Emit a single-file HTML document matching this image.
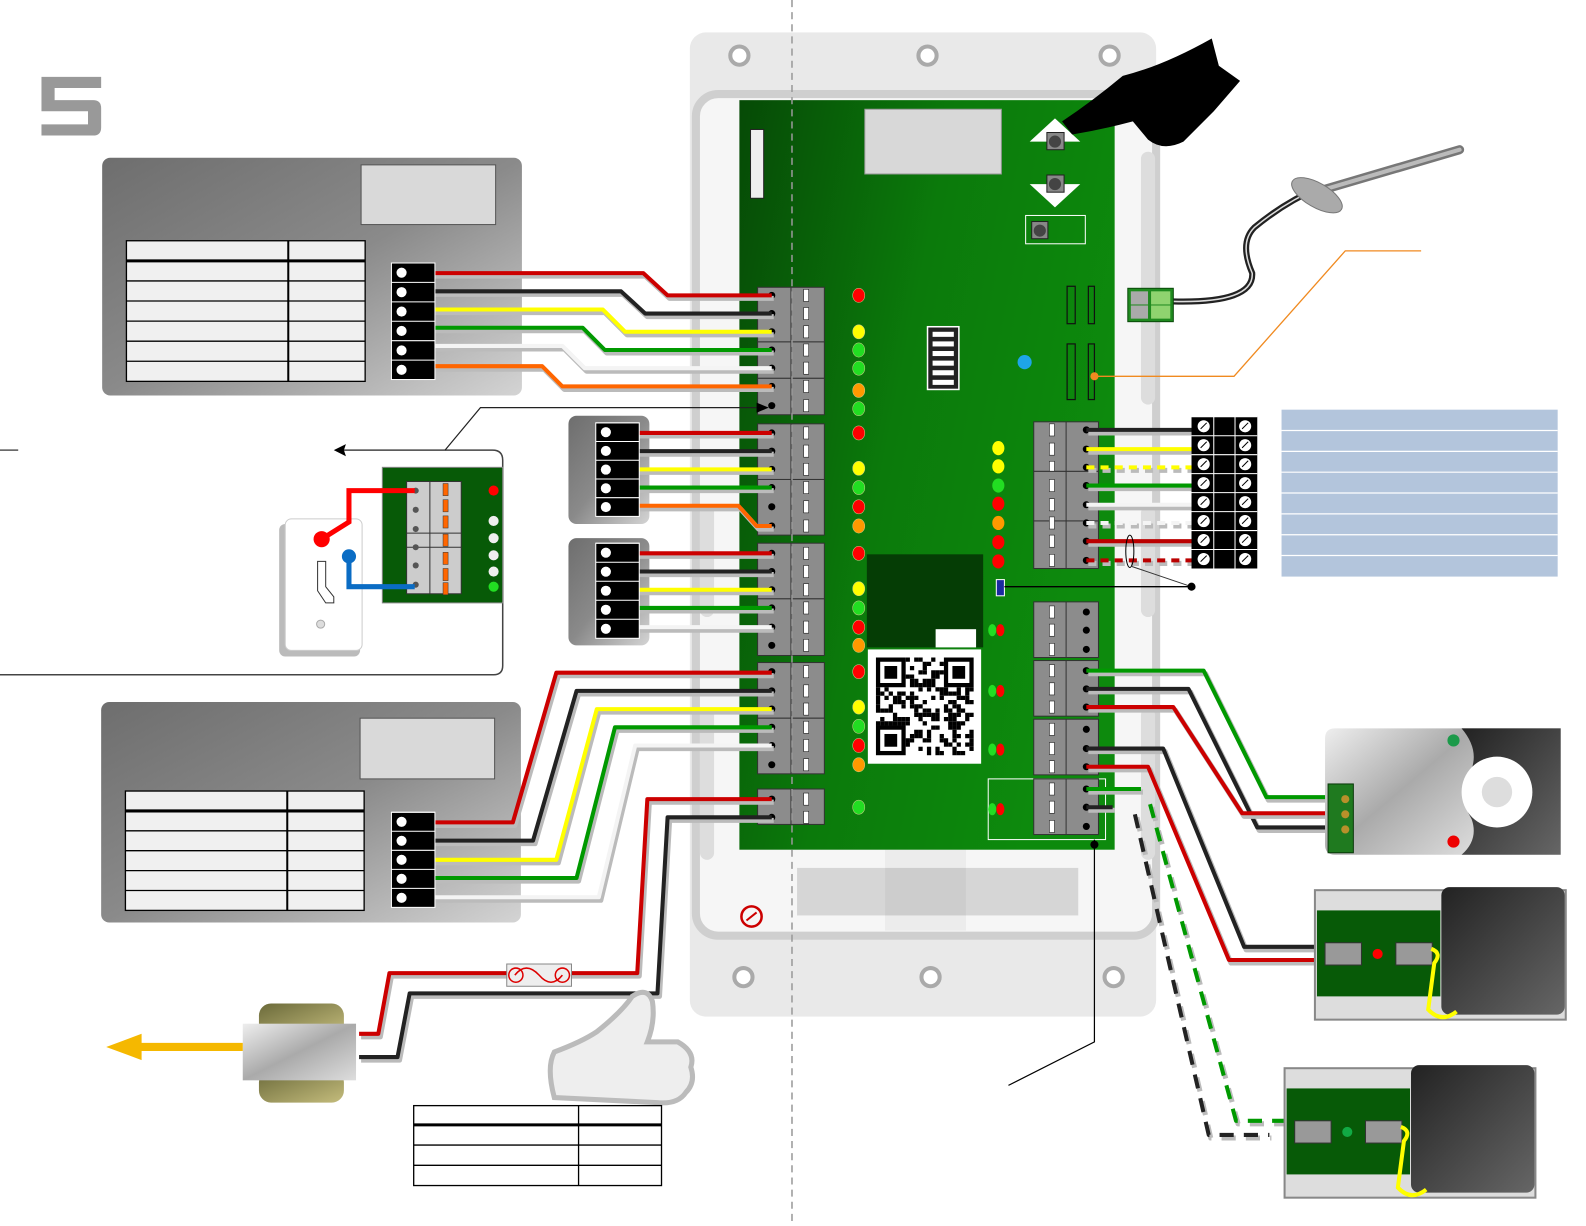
<!DOCTYPE html>
<html><head><meta charset="utf-8"><style>html,body{margin:0;padding:0;background:#fff}svg{display:block}</style></head>
<body>
<svg id="s" xmlns="http://www.w3.org/2000/svg" width="1586" height="1226" viewBox="0 0 1568 1212" preserveAspectRatio="none">
<defs>
<linearGradient id="pg" x1="0" y1="0" x2="1" y2="1"><stop offset="0" stop-color="#6e6e6e"/><stop offset="0.5" stop-color="#8a8a8a"/><stop offset="1" stop-color="#d4d4d4"/></linearGradient>
<linearGradient id="gb" x1="0" y1="0" x2="1" y2="0.4"><stop offset="0" stop-color="#064a06"/><stop offset="0.5" stop-color="#0b7a0b"/><stop offset="1" stop-color="#0d8a0d"/></linearGradient>
<linearGradient id="mg" x1="0" y1="0" x2="1" y2="1"><stop offset="0" stop-color="#eee"/><stop offset="0.5" stop-color="#aaa"/><stop offset="1" stop-color="#ddd"/></linearGradient>
<linearGradient id="dk" x1="0" y1="0" x2="1" y2="1"><stop offset="0" stop-color="#222"/><stop offset="1" stop-color="#666"/></linearGradient>
<linearGradient id="ol" x1="0" y1="0" x2="1" y2="1"><stop offset="0" stop-color="#6b6a3a"/><stop offset="1" stop-color="#c4bc7c"/></linearGradient>
</defs>
<!-- big 5 -->
<path d="M41 76 H100 V87 H54 V99 H92 Q100 99 100 107 V126 Q100 134 92 134 H41 V123 H87 V110 H41 Z" fill="#999"/>
<!-- enclosure -->
<rect x="682" y="32" width="461" height="973" rx="16" fill="#e9e9e9"/>
<rect x="688" y="93" width="455" height="832" rx="22" fill="#f6f6f6" stroke="#cfcfcf" stroke-width="8"/>
<rect x="1128" y="150" width="14" height="250" rx="7" fill="#ddd"/>
<rect x="1128" y="500" width="14" height="110" rx="7" fill="#ddd"/>
<rect x="1128" y="700" width="14" height="150" rx="7" fill="#ddd"/>
<rect x="692" y="500" width="14" height="110" rx="7" fill="#ddd"/>
<rect x="692" y="700" width="14" height="150" rx="7" fill="#ddd"/>
<g fill="#fff" stroke="#aaa" stroke-width="4"><circle cx="731" cy="55" r="9"/><circle cx="917" cy="55" r="9"/><circle cx="1097" cy="55" r="9"/><circle cx="735" cy="966" r="9"/><circle cx="920" cy="966" r="9"/><circle cx="1101" cy="966" r="9"/></g>
<rect x="788" y="858" width="278" height="47" fill="#d6d6d6"/><rect x="875" y="840" width="80" height="80" fill="#000" opacity="0.04"/>
<circle cx="743" cy="906" r="10" fill="none" stroke="#c00" stroke-width="2.5"/><path d="M738 910 L748 902" stroke="#c00" stroke-width="2"/>
<!-- PCB -->
<rect x="731" y="99" width="371" height="741" fill="url(#gb)"/>
<rect x="742" y="128" width="13" height="68" fill="#eee" stroke="#222" stroke-width="1"/>
<rect x="855" y="108" width="135" height="64" fill="#d8d8d8" stroke="#999"/>
<path d="M1018 140 L1043 117 L1068 140 Z" fill="#fff"/><rect x="1035" y="131" width="17" height="17" fill="#888" stroke="#222"/><circle cx="1043" cy="140" r="6" fill="#444"/>
<path d="M1018 182 L1043 205 L1068 182 Z" fill="#fff"/><rect x="1035" y="173" width="17" height="17" fill="#888" stroke="#222"/><circle cx="1043" cy="182" r="6" fill="#444"/>
<rect x="1014" y="213" width="59" height="28" fill="none" stroke="#fff"/><rect x="1020" y="219" width="16" height="17" fill="#888" stroke="#222"/><circle cx="1028" cy="228" r="6" fill="#444"/>
<g fill="none" stroke="#111" stroke-width="1.2"><rect x="1055" y="283" width="8" height="37"/><rect x="1076" y="283" width="6" height="37"/><rect x="1055" y="340" width="8" height="55"/><rect x="1076" y="340" width="6" height="55"/></g>
<rect x="917" y="323" width="31" height="62" fill="#222" stroke="#fff" stroke-width="1.5"/>
<g id="dip"></g>
<circle cx="1013" cy="358" r="7" fill="#1ea5e8"/>
<rect x="857" y="548" width="115" height="92" fill="#053d05"/><rect x="925" y="622" width="40" height="18" fill="#fff"/>
<rect x="858" y="642" width="112" height="113" fill="#fff"/><g id="qr"></g>
<rect x="977" y="770" width="116" height="60" fill="none" stroke="#fff" stroke-width="1"/>
<rect x="985" y="573" width="8" height="16" fill="#1a2aa0" stroke="#fff"/>
<g id="bt"></g><g id="leds"></g>
<!-- dashed center line -->
<line x1="783" y1="0" x2="783" y2="1212" stroke="#999" stroke-width="1.5" stroke-dasharray="7 5"/>
<!-- panels -->
<rect x="101" y="156" width="415" height="235" rx="8" fill="url(#pg)"/>
<rect x="357" y="163" width="133" height="59" fill="#d9d9d9" stroke="#555" stroke-width="1"/>
<g id="t1"></g>
<rect x="100" y="694" width="415" height="218" rx="8" fill="url(#pg)"/>
<rect x="356" y="710" width="133" height="60" fill="#d9d9d9" stroke="#555" stroke-width="1"/>
<g id="t2"></g>
<rect x="562" y="411" width="80" height="107" rx="8" fill="url(#pg)"/>
<rect x="562" y="532" width="80" height="106" rx="8" fill="url(#pg)"/>
<g id="wires"></g>
<g id="terms"></g>
<!-- switch area -->
<line x1="0" y1="445" x2="18" y2="445" stroke="#555" stroke-width="1.5"/>
<path d="M0 667 H488 Q497 667 497 658 V455 Q497 445 487 445 H340" fill="none" stroke="#444" stroke-width="1.5"/>
<path d="M330 445 L342 439 L340 445 L342 451 Z" fill="#000"/>
<path d="M440 445 L475 403 H755" fill="none" stroke="#222" stroke-width="1.2"/><path d="M760 403 L748 398 L748 408 Z" fill="#000"/>
<rect x="276" y="518" width="80" height="131" rx="6" fill="#bbb"/>
<rect x="282" y="513" width="76" height="130" rx="6" fill="#fff" stroke="#ccc"/>
<path d="M314 555 h8 v25 l8 10 v6 h-8 l-8 -12 Z" fill="#fff" stroke="#333"/>
<circle cx="317" cy="617" r="4" fill="#ddd" stroke="#aaa"/>
<rect x="378" y="462" width="119" height="134" fill="#075a07" stroke="#888"/>
<rect x="402" y="476" width="54" height="111" fill="#ccc" stroke="#333"/><line x1="425" y1="476" x2="425" y2="587" stroke="#333"/><line x1="402" y1="527" x2="456" y2="527" stroke="#333"/><line x1="402" y1="541" x2="456" y2="541" stroke="#333"/>
<g id="sw"></g>
<path d="M318 533 L345 516 V485 H410" fill="none" stroke="#f00" stroke-width="5"/><circle cx="318" cy="533" r="8" fill="#f00"/>
<path d="M345 550 V580 H410" fill="none" stroke="#0a6cc4" stroke-width="5"/><circle cx="345" cy="550" r="7" fill="#0a6cc4"/>
<!-- power -->
<rect x="256" y="992" width="84" height="32" rx="12" fill="url(#ol)"/><rect x="256" y="1058" width="84" height="32" rx="12" fill="url(#ol)"/>
<rect x="240" y="1012" width="112" height="56" fill="url(#mg)"/>
<path d="M240 1035 H130" stroke="#f5b800" stroke-width="8"/><path d="M105 1035 L140 1022 L140 1048 Z" fill="#f5b800"/>
<rect x="501" y="953" width="64" height="22" fill="#eee" stroke="#888"/>
<path d="M509 964 Q520 950 533 964 Q545 978 556 964" fill="none" stroke="#d00" stroke-width="1.5"/><circle cx="510" cy="964" r="7" fill="none" stroke="#d00" stroke-width="1.5"/><circle cx="556" cy="964" r="7" fill="none" stroke="#d00" stroke-width="1.5"/>
<path d="M548 1085 Q540 1055 548 1040 Q575 1030 590 1020 Q615 1000 625 985 Q640 975 645 990 Q648 1010 640 1030 L670 1030 Q688 1040 683 1055 Q688 1070 678 1080 Q670 1092 650 1090 Z" fill="#eee" stroke="#bbb" stroke-width="5"/>
<g fill="none" stroke="#000" stroke-width="1.3"><rect x="409" y="1093" width="245" height="79"/><line x1="572" y1="1093" x2="572" y2="1172"/><line x1="409" y1="1132" x2="654" y2="1132"/><line x1="409" y1="1152" x2="654" y2="1152"/></g><line x1="409" y1="1112" x2="654" y2="1112" stroke="#000" stroke-width="3"/>
<!-- right side -->
<path d="M1050 120 Q1080 100 1110 75 Q1150 65 1198 38 L1205 65 L1226 80 L1200 110 L1170 140 Q1150 150 1135 138 L1120 120 Q1090 128 1060 133 Z" fill="#000"/>
<path d="M1160 298 Q1240 300 1238 270 Q1225 240 1240 225 Q1270 200 1305 185" fill="none" stroke="#222" stroke-width="6"/><path d="M1160 298 Q1240 300 1238 270 Q1225 240 1240 225 Q1270 200 1305 185" fill="none" stroke="#ddd" stroke-width="1.5"/>
<path d="M1300 190 L1443 148" stroke="#777" stroke-width="9" stroke-linecap="round"/><path d="M1300 190 L1443 148" stroke="#bbb" stroke-width="4" stroke-linecap="round"/>
<ellipse cx="1302" cy="193" rx="28" ry="12" transform="rotate(30 1302 193)" fill="#aaa" stroke="#777"/>
<rect x="1115" y="285" width="45" height="33" fill="#1f8a1f" stroke="#0a4a0a"/><rect x="1138" y="288" width="19" height="13" fill="#8fd36f"/><rect x="1138" y="302" width="19" height="13" fill="#8fd36f"/><rect x="1118" y="288" width="17" height="13" fill="#aaa"/><rect x="1118" y="302" width="17" height="13" fill="#aaa"/>
<path d="M1082 372 H1220 L1330 248 H1405" fill="none" stroke="#f08a20" stroke-width="1.3"/><circle cx="1082" cy="372" r="4" fill="#f08a20"/>
<rect x="1267" y="405" width="273" height="165" fill="#b3c5dc"/><g id="bl"></g>
<rect x="1178" y="412" width="65" height="150" fill="#000"/><g id="strip"></g>
<ellipse cx="1117" cy="545" rx="4" ry="16" fill="none" stroke="#000"/><path d="M1119 560 L1178 580" stroke="#333"/>
<line x1="993" y1="580" x2="1178" y2="580" stroke="#000" stroke-width="1.3"/><circle cx="1178" cy="580" r="4" fill="#000"/>
<path d="M1082 830 V1030 L997 1073" fill="none" stroke="#000" stroke-width="1.2"/><circle cx="1082" cy="835" r="4" fill="#000"/>
<!-- actuator -->
<rect x="1445" y="720" width="98" height="125" fill="url(#dk)"/>
<path d="M1320 720 H1445 Q1462 740 1455 760 Q1440 785 1455 810 Q1462 830 1445 845 H1320 Q1310 845 1310 835 V730 Q1310 720 1320 720Z" fill="url(#mg)"/>
<circle cx="1480" cy="783" r="35" fill="#fff"/><circle cx="1480" cy="783" r="15" fill="#ddd"/>
<circle cx="1437" cy="732" r="6" fill="#1c9a4a"/><circle cx="1437" cy="832" r="6" fill="#e00"/>
<rect x="1313" y="775" width="25" height="68" fill="#1f7a1f" stroke="#0a3a0a"/>
<g fill="#b8902a"><circle cx="1330" cy="790" r="4"/><circle cx="1330" cy="805" r="4"/><circle cx="1330" cy="820" r="4"/></g>
<!-- boxes -->
<g id="bx"></g>
</svg>
<script>
const S='http://www.w3.org/2000/svg';
function el(p,t,a){const e=document.createElementNS(S,t);for(const k in a)e.setAttribute(k,a[k]);document.getElementById(p).appendChild(e);return e;}
// DIP
for(let i=0;i<6;i++)el('dip','rect',{x:922,y:328+i*9.5,width:21,height:5,fill:'#fff'});
// QR
let seed=7;function rnd(){seed=(seed*16807)%2147483647;return seed/2147483647;}
const qx=866,qy=650,c=4.2;
for(let r=0;r<23;r++)for(let k=0;k<23;k++){if((r<7&&k<7)||(r<7&&k>15)||(r>15&&k<7))continue;if(rnd()<0.5)el('qr','rect',{x:qx+k*c,y:qy+r*c,width:c,height:c,fill:'#000'});}
[[0,0],[16,0],[0,16]].forEach(([a,b])=>{el('qr','rect',{x:qx+a*c+c/2,y:qy+b*c+c/2,width:6*c,height:6*c,fill:'none',stroke:'#000','stroke-width':c});el('qr','rect',{x:qx+a*c+2*c,y:qy+b*c+2*c,width:3*c,height:3*c,fill:'#000'});});
// board terminal blocks left
function blk(x,y,w,h,pins,pinx,slotx){el('bt','rect',{x:x,y:y,width:w,height:h,fill:'#8c8c8c',stroke:'#333'});el('bt','line',{x1:x+w/2,y1:y,x2:x+w/2,y2:y+h,stroke:'#333'});pins.forEach(py=>{el('bt','circle',{cx:pinx,cy:py,r:3.5,fill:'#000'});el('bt','rect',{x:slotx-2.5,y:py-6,width:5,height:12,fill:'#fff',stroke:'#222','stroke-width':0.6});});}
const L=[[284,338,[292,310,328]],[338,374,[346,364]],[374,410,[382,401]],[419,474,[428,446,464]],[474,529,[482,501,520]],[537,592,[547,565,583]],[592,648,[601,620,638]],[655,710,[664,683,701]],[710,765,[719,737,756]],[780,815,[790,808]]];
L.forEach(([a,b,p])=>blk(749,a,66,b-a,p,763,797));
const R=[[417,466,[425,444,462]],[466,515,[480,499]],[515,562,[517,535,554]],[595,650,[605,623,642]],[653,708,[663,681,699]],[711,766,[721,740,758]],[770,825,[780,798,817]]];
R.forEach(([a,b,p])=>blk(1022,a,64,b-a,p,1074,1040));
// LEDs
const col={r:'#f00',y:'#ff0',g:'#2d2',o:'#f90',w:'#eee'};
[[292,'r'],[328,'y'],[346,'g'],[364,'g'],[386,'o'],[404,'g'],[428,'r'],[463,'y'],[482,'g'],[501,'r'],[520,'o'],[547,'r'],[582,'y'],[601,'g'],[620,'r'],[638,'o'],[664,'r'],[699,'y'],[718,'g'],[737,'r'],[756,'o'],[798,'g']].forEach(([y,k])=>el('leds','ellipse',{cx:849,cy:y,rx:6,ry:7,fill:col[k],stroke:'#cc8','stroke-width':0.5}));
[[443,'y'],[461,'y'],[480,'g'],[498,'r'],[517,'o'],[536,'r'],[555,'r']].forEach(([y,k])=>el('leds','ellipse',{cx:987,cy:y,rx:6,ry:7,fill:col[k]}));
[623,683,741,800].forEach(y=>{el('leds','ellipse',{cx:981,cy:y,rx:4,ry:6,fill:'#2d2'});el('leds','ellipse',{cx:989,cy:y,rx:4,ry:6,fill:'#f00'});});
// tables
function tbl(g,x,y,w,h,cx,n){el(g,'rect',{x:x,y:y,width:w,height:h,fill:'#f0f0f0',stroke:'#000','stroke-width':1.3});el(g,'line',{x1:cx,y1:y,x2:cx,y2:y+h,stroke:'#000','stroke-width':2});const rh=h/n;for(let i=1;i<n;i++)el(g,'line',{x1:x,y1:y+i*rh,x2:x+w,y2:y+i*rh,stroke:'#000','stroke-width':i==1?3:1.3});}
tbl('t1',125,238,236,139,285,7);tbl('t2',124,782,236,118,284,6);
// terminal strips on panels
function ts(x,y,n,dy){el('terms','rect',{x:x,y:y,width:43,height:n*dy,fill:'#000',stroke:'#fff'});for(let i=0;i<n;i++){el('terms','line',{x1:x,y1:y+i*dy,x2:x+43,y2:y+i*dy,stroke:'#fff'});el('terms','circle',{cx:x+10,cy:y+dy*(i+0.5),r:5,fill:'#fff'});}}
// wires
function w(pts,color,dash){const d='M'+pts.map(p=>p.join(' ')).join(' L');el('wires','path',{d:d,fill:'none',stroke:'#bbb','stroke-width':5,transform:'translate(2,3)','stroke-dasharray':dash||'none','stroke-linejoin':'round'});el('wires','path',{d:d,fill:'none',stroke:color,'stroke-width':4,'stroke-dasharray':dash||'none','stroke-linejoin':'round'});}
const RD='#c00',BK='#222',YL='#ff0',GN='#090',WH='#f4f4f4',OR='#f60';
w([[398,270],[636,270],[660,292],[763,292]],RD);
w([[398,288],[614,288],[638,310],[763,310]],BK);
w([[398,306],[596,306],[618,328],[763,328]],YL);
w([[398,324],[576,324],[598,346],[763,346]],GN);
w([[398,342],[556,342],[578,364],[763,364]],WH);
w([[398,362],[536,362],[556,382],[763,382]],OR);
w([[598,428],[763,428]],RD);w([[598,446],[763,446]],BK);w([[598,464],[763,464]],YL);w([[598,482],[763,482]],GN);
w([[598,500],[730,500],[748,520],[763,520]],OR);
w([[598,547],[763,547]],RD);w([[598,565],[763,565]],BK);w([[598,583],[763,583]],YL);w([[598,601],[763,601]],GN);w([[598,620],[763,620]],WH);
w([[398,813],[507,813],[550,665],[763,665]],RD);
w([[398,831],[527,831],[570,683],[763,683]],BK);
w([[398,850],[550,850],[590,701],[763,701]],YL);
w([[398,868],[570,868],[608,719],[763,719]],GN);
w([[398,887],[592,887],[628,737],[763,737]],WH);
w([[763,790],[640,790],[630,962],[385,962],[374,1022],[355,1022]],RD);
w([[763,808],[660,808],[650,982],[405,982],[393,1045],[355,1045]],BK);
// right wires to strip
w([[1074,425],[1190,425]],BK);w([[1074,444],[1190,444]],YL);w([[1074,462],[1190,462]],YL,'8 6');w([[1074,480],[1190,480]],GN);w([[1074,499],[1190,499]],WH);w([[1074,517],[1190,517]],WH,'8 6');w([[1074,535],[1190,535]],'#b00');w([[1074,554],[1190,554]],'#b00','8 6');
w([[1074,663],[1190,663],[1252,788],[1320,788]],GN);
w([[1074,681],[1175,681],[1243,818],[1320,818]],BK);
w([[1074,699],[1160,699],[1228,804],[1320,804]],RD);
w([[1074,740],[1150,740],[1230,936],[1310,936]],BK);
w([[1074,758],[1135,758],[1215,949],[1310,949]],RD);
w([[1074,780],[1128,780]],GN);w([[1074,798],[1100,798]],BK);
w([[1122,805],[1195,1122],[1255,1122]],BK,'14 10');
w([[1137,795],[1222,1108],[1282,1108]],GN,'14 10');
ts(387,260,6,19.2);ts(589,418,5,18.5);ts(589,537,5,18.8);ts(387,803,5,18.8);
// blue panel lines
for(let i=1;i<8;i++)el('bl','line',{x1:1267,y1:405+i*20.6,x2:1540,y2:405+i*20.6,stroke:'#fff','stroke-width':1.2});
// strip
for(let i=0;i<8;i++){const y=412+i*18.75;el('strip','line',{x1:1178,y1:y,x2:1243,y2:y,stroke:'#fff'});el('strip','circle',{cx:1190,cy:y+9.4,r:6,fill:'#fff'});el('strip','circle',{cx:1231,cy:y+9.4,r:6,fill:'#fff'});el('strip','line',{x1:1187,y1:y+12,x2:1193,y2:y+6,stroke:'#000'});el('strip','line',{x1:1228,y1:y+12,x2:1234,y2:y+6,stroke:'#000'});}
el('strip','line',{x1:1200,y1:412,x2:1200,y2:562,stroke:'#fff'});el('strip','line',{x1:1221,y1:412,x2:1221,y2:562,stroke:'#fff'});
// switch inset pins
[485,504,523,541,559,578].forEach(y=>el('sw','circle',{cx:411,cy:y,r:3,fill:'#555'}));
[484,500,516,534,552,568,582].forEach(y=>el('sw','rect',{x:438,y:y-6,width:5,height:12,fill:'#f60',stroke:'#333','stroke-width':0.5}));
[[485,'#f00'],[515,'#eee'],[532,'#eee'],[549,'#eee'],[565,'#eee'],[580,'#2d2']].forEach(([y,c])=>el('sw','circle',{cx:488,cy:y,r:5,fill:c}));
// boxes
function box(x,y,led){el('bx','rect',{x:x,y:y,width:248,height:128,fill:'#ddd',stroke:'#888','stroke-width':2});el('bx','rect',{x:x+2,y:y+20,width:122,height:85,fill:'#075a07'});el('bx','rect',{x:x+125,y:y-3,width:122,height:126,rx:8,fill:'url(#dk)'});
el('bx','rect',{x:x+10,y:y+52,width:36,height:22,fill:'#999',stroke:'#333'});el('bx','rect',{x:x+80,y:y+52,width:36,height:22,fill:'#999',stroke:'#333'});
el('bx','circle',{cx:x+62,cy:y+63,r:5,fill:led});
el('bx','path',{d:`M${x+115} ${y+58} Q${x+126} ${y+62} ${x+118} ${y+72} L${x+112} ${y+118} Q${x+125} ${y+132} ${x+140} ${y+120}`,fill:'none',stroke:'#ff0','stroke-width':4});}
box(1300,880,'#f00');box(1270,1056,'#1a4');
</script>
</body></html>
